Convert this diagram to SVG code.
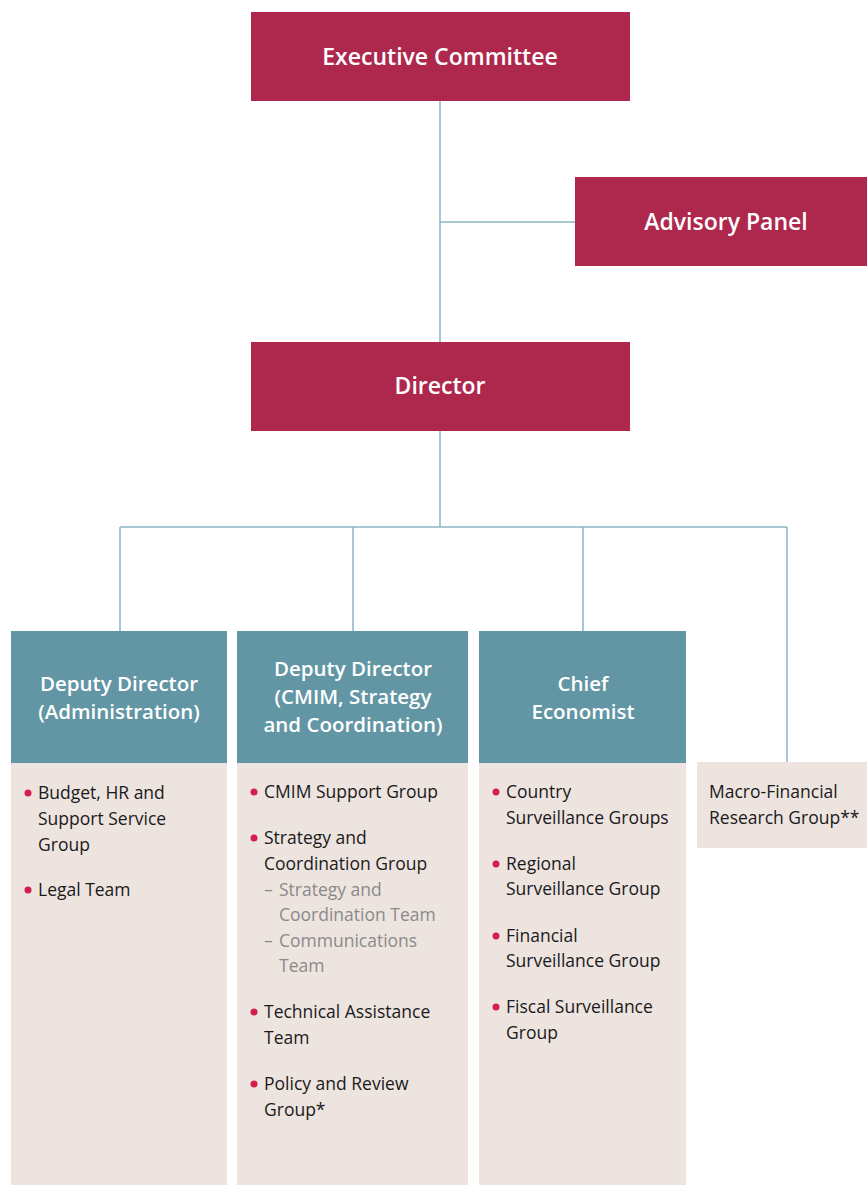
<svg xmlns="http://www.w3.org/2000/svg" width="867" height="1185" viewBox="0 0 867 1185">
<style>
.top{fill:#AE284D}
.hd{fill:#6296A5}
.bd{fill:#EDE4E0}
.tt{font-family:"Open Sans","Noto Sans",sans-serif;font-weight:600;fill:#fff;text-anchor:middle}
.t1{font-size:23px}
.t2{font-size:20.5px}
.b{font-family:"Open Sans","Noto Sans",sans-serif;font-size:17.5px;fill:#1a1a1a}
.g{fill:#8a8a8a}
.dot{fill:#D41F4C}
.ln{stroke:#8AB5C2;stroke-width:1.5;fill:none}
</style>
<rect width="867" height="1185" fill="#fff"/>
<g id="connectors">
<path class="ln" d="M440 101V342M440 222H575M440 431V527M120 527H787M120 527V631M353 527V631M583 527V631M787 527V763"/>
</g>
<g id="executive-committee">
<rect class="top" x="251" y="12" width="379" height="89"/>
<text class="tt t1" x="440" y="65">Executive Committee</text>
</g>
<g id="advisory-panel">
<rect class="top" x="575" y="177" width="292" height="89"/>
<text class="tt t1" x="726" y="230">Advisory Panel</text>
</g>
<g id="director">
<rect class="top" x="251" y="342" width="379" height="89"/>
<text class="tt t1" x="440" y="394">Director</text>
</g>
<g id="deputy-admin">
<rect class="hd" x="11" y="631" width="216" height="132"/>
<rect class="bd" x="11" y="763" width="216" height="422"/>
<text class="tt t2" x="119" y="691">Deputy Director</text>
<text class="tt t2" x="119" y="719">(Administration)</text>
<circle class="dot" cx="28" cy="793" r="3.5"/>
<text class="b" x="38" y="799">Budget, HR and</text>
<text class="b" x="38" y="825">Support Service</text>
<text class="b" x="38" y="851">Group</text>
<circle class="dot" cx="28" cy="890" r="3.5"/>
<text class="b" x="38" y="896">Legal Team</text>
</g>
<g id="deputy-cmim">
<rect class="hd" x="237" y="631" width="231" height="132"/>
<rect class="bd" x="237" y="763" width="231" height="422"/>
<text class="tt t2" x="353" y="676">Deputy Director</text>
<text class="tt t2" x="353" y="704">(CMIM, Strategy</text>
<text class="tt t2" x="353" y="732">and Coordination)</text>
<circle class="dot" cx="254" cy="792" r="3.5"/>
<text class="b" x="264" y="798">CMIM Support Group</text>
<circle class="dot" cx="254" cy="838" r="3.5"/>
<text class="b" x="264" y="844">Strategy and</text>
<text class="b" x="264" y="870">Coordination Group</text>
<text class="b g" x="264" y="896">– </text>
<text class="b g" x="279" y="896">Strategy and</text>
<text class="b g" x="279" y="921">Coordination Team</text>
<text class="b g" x="264" y="947">– </text>
<text class="b g" x="279" y="947">Communications</text>
<text class="b g" x="279" y="972">Team</text>
<circle class="dot" cx="254" cy="1012" r="3.5"/>
<text class="b" x="264" y="1018">Technical Assistance</text>
<text class="b" x="264" y="1044">Team</text>
<circle class="dot" cx="254" cy="1084" r="3.5"/>
<text class="b" x="264" y="1090">Policy and Review</text>
<text class="b" x="264" y="1116">Group*</text>
</g>
<g id="chief-economist">
<rect class="hd" x="479" y="631" width="207" height="132"/>
<rect class="bd" x="479" y="763" width="207" height="422"/>
<text class="tt t2" x="583" y="691">Chief</text>
<text class="tt t2" x="583" y="719">Economist</text>
<circle class="dot" cx="496" cy="792" r="3.5"/>
<text class="b" x="506" y="798">Country</text>
<text class="b" x="506" y="824">Surveillance Groups</text>
<circle class="dot" cx="496" cy="864" r="3.5"/>
<text class="b" x="506" y="870">Regional</text>
<text class="b" x="506" y="895">Surveillance Group</text>
<circle class="dot" cx="496" cy="936" r="3.5"/>
<text class="b" x="506" y="942">Financial</text>
<text class="b" x="506" y="967">Surveillance Group</text>
<circle class="dot" cx="496" cy="1007" r="3.5"/>
<text class="b" x="506" y="1013">Fiscal Surveillance</text>
<text class="b" x="506" y="1039">Group</text>
</g>
<g id="macro-financial">
<rect class="bd" x="697" y="762" width="170" height="86"/>
<text class="b" x="709" y="798">Macro-Financial</text>
<text class="b" x="709" y="824">Research Group**</text>
</g>
</svg>
